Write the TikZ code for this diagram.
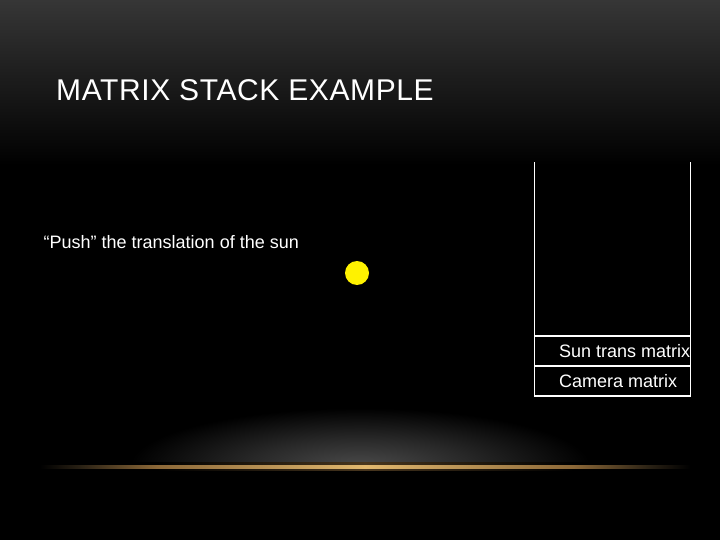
\documentclass[tikz,border=0pt]{standalone}
\usepackage{fontspec}
\setmainfont{Liberation Sans}
\definecolor{topgray}{RGB}{54,54,54}
\definecolor{glowc}{RGB}{74,74,74}
\definecolor{glowmid}{RGB}{40,40,40}
\definecolor{linec}{RGB}{226,184,110}
\definecolor{linedim}{RGB}{140,104,56}
\definecolor{linefaint}{RGB}{40,32,20}
\definecolor{halo}{RGB}{72,54,30}
\pgfdeclareradialshading{glow}{\pgfpoint{0bp}{0bp}}{color(0bp)=(glowc); color(12bp)=(glowmid); color(25bp)=(black); color(50bp)=(black)}
\pgfdeclarehorizontalshading{lineshade}{100bp}{color(0bp)=(black); color(25bp)=(black); color(28bp)=(linefaint); color(34bp)=(linedim); color(50bp)=(linec); color(66bp)=(linedim); color(72bp)=(linefaint); color(75bp)=(black); color(100bp)=(black)}
\pgfdeclarehorizontalshading{haloshade}{100bp}{color(0bp)=(black); color(25bp)=(black); color(34bp)=(black); color(50bp)=(halo); color(66bp)=(black); color(75bp)=(black); color(100bp)=(black)}
\begin{document}
\begin{tikzpicture}[x=1pt,y=-1pt,
  lbl/.style={text=white,font=\fontsize{18}{20}\selectfont,inner sep=0pt,anchor=base west},
  titlestyle/.style={text=white,font=\fontsize{30}{32}\selectfont\addfontfeature{LetterSpace=2},inner sep=0pt,anchor=base west},
  cell/.style={draw=white,line width=1.2pt,minimum width=155.6pt,minimum height=30pt,inner sep=0pt},
  stackline/.style={draw=white,line width=1.2pt}]
\useasboundingbox (0,0) rectangle (720,540);
\fill[black] (0,0) rectangle (720,540);
\shade[top color=topgray,bottom color=black] (0,0) rectangle (720,165);
% glow above the horizon line
\begin{scope}
  \clip (0,380) rectangle (720,465.5);
  \shade[shading=glow] (360,466) ellipse [x radius=230, y radius=58];
\end{scope}
\shade[shading=haloshade] (40,462.5) rectangle (690,470.5);
\shade[shading=lineshade] (40,465) rectangle (690,468);
% title
\node[titlestyle] (title) at (56,100.5) {MATRIX STACK EXAMPLE};
% caption
\node[lbl] (push) at (43.5,248.5) {“Push” the translation of the sun};
% sun
\node[circle,fill=yellow,minimum size=24pt,inner sep=0pt] (sun) at (357,273) {};
% stack
\draw[stackline] (534.7,162.5) -- (534.7,336);
\draw[stackline] (690.3,162.5) -- (690.3,336);
\node[cell] (suncell) at (612.5,351) {};
\node[cell] (camcell) at (612.5,381) {};
\node[lbl] (suntxt) at (559,357) {Sun trans matrix};
\node[lbl] (camtxt) at (559,387) {Camera matrix};
\end{tikzpicture}
\end{document}
